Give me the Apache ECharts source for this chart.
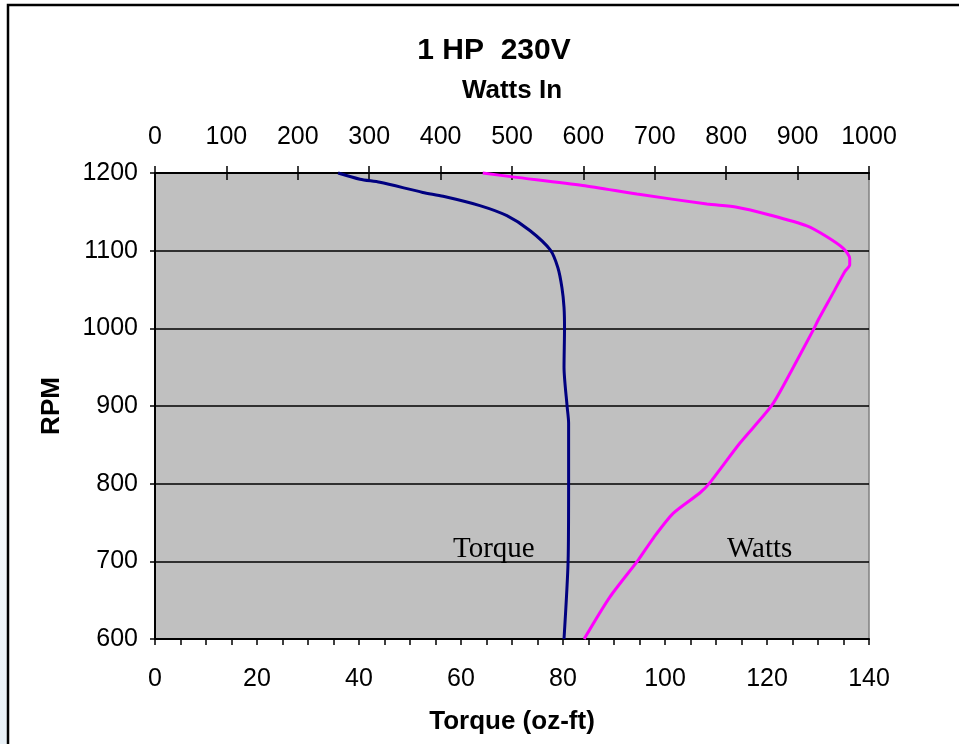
<!DOCTYPE html>
<html>
<head>
<meta charset="utf-8">
<script src="https://cdn.jsdelivr.net/npm/echarts@6/dist/echarts.min.js"></script>
<style>
html,body{margin:0;padding:0;background:#fff;}
#chart{width:959px;height:744px;}
</style>
</head>
<body>
<div id="chart"></div>
<script>
const titleText = '1 HP  230V';
const rpmTicks = [600, 700, 800, 900, 1000, 1100, 1200];

const torqueRPM  = [1200, 1192, 1188, 1175, 1170, 1158, 1145, 1126, 1101, 1078, 1052, 1027, 1000, 950, 900, 878, 800, 700, 600];
const torqueVals = [35.9, 40.2, 44.1, 52.5, 56.5, 63.7, 69.0, 73.5, 77.5, 79.0, 79.8, 80.2, 80.3, 80.2, 80.8, 81.1, 81.1, 81.0, 80.2];

const wattsRPM  = [1200, 1195, 1184, 1173, 1160, 1156, 1146, 1132, 1118, 1103, 1090, 1082, 1073, 1046, 1011, 998, 950, 901, 852, 801, 788, 762, 730, 702, 654, 600];
const wattsVals = [459, 501, 599, 675, 773, 815, 861, 913, 941, 964, 973, 973, 966, 950, 929, 922, 894, 864, 819, 777, 763, 726, 698, 677, 637, 601];

const torqueData = torqueVals.map((v, i) => [v, torqueRPM[i]]);
const wattsData = wattsVals.map((v, i) => [v, wattsRPM[i]]);

const FONT = 'Liberation Sans, Arial, sans-serif';
const plain = v => String(v);
const chart = echarts.init(document.getElementById('chart'));
chart.setOption({
  animation: false,
  backgroundColor: '#ffffff',
  title: {
    text: titleText,
    left: 489, top: 31, textAlign: 'center',
    textStyle: {fontFamily: FONT, fontSize: 30, fontWeight: 'bold', color: '#000'}
  },
  grid: {
    left: 155, right: 90, top: 173, bottom: 105,
    show: true, backgroundColor: '#C0C0C0', borderColor: '#808080', borderWidth: 1.5
  },
  xAxis: [
    {
      type: 'value', position: 'bottom', min: 0, max: 140, interval: 20,
      name: 'Torque (oz-ft)', nameLocation: 'middle', nameGap: 70,
      nameTextStyle: {fontFamily: FONT, fontSize: 26, fontWeight: 'bold', color: '#000'},
      axisLine: {show: true, onZero: false, lineStyle: {color: '#000', width: 2}},
      axisTick: {show: true, length: 6, lineStyle: {color: '#000', width: 1.5}},
      minorTick: {show: true, splitNumber: 4, length: 6, lineStyle: {color: '#000', width: 1.5}},
      axisLabel: {margin: 28, fontFamily: FONT, fontSize: 25, color: '#000', formatter: plain},
      splitLine: {show: false}
    },
    {
      type: 'value', position: 'top', min: 0, max: 1000, interval: 100,
      name: 'Watts In', nameLocation: 'middle', nameGap: 69,
      nameTextStyle: {fontFamily: FONT, fontSize: 26, fontWeight: 'bold', color: '#000'},
      axisLine: {show: true, onZero: false, lineStyle: {color: '#000', width: 2}},
      axisTick: {show: true, length: 7, lineStyle: {color: '#000', width: 1.5}},
      axisLabel: {margin: 23, fontFamily: FONT, fontSize: 25, color: '#000', formatter: plain},
      splitLine: {show: false}
    },
    {
      type: 'value', position: 'top', min: 0, max: 1000, interval: 100,
      axisLine: {show: false},
      axisTick: {show: true, inside: true, length: 7, lineStyle: {color: '#000', width: 1.5}},
      axisLabel: {show: false},
      splitLine: {show: false}
    }
  ],
  yAxis: {
    type: 'value', min: rpmTicks[0], max: rpmTicks[rpmTicks.length - 1], interval: 100,
    name: 'RPM', nameLocation: 'middle', nameGap: 90, nameRotate: 90,
    nameTextStyle: {fontFamily: FONT, fontSize: 26, fontWeight: 'bold', color: '#000'},
    axisLine: {show: true, onZero: false, lineStyle: {color: '#000', width: 2}},
    axisTick: {show: true, length: 5, lineStyle: {color: '#000', width: 1.5}},
    axisLabel: {margin: 17, fontFamily: FONT, fontSize: 25, color: '#000', formatter: plain},
    splitLine: {show: true, lineStyle: {color: '#000', width: 1.5}}
  },
  series: [
    {
      name: 'Torque', type: 'line', xAxisIndex: 0, yAxisIndex: 0,
      data: torqueData, showSymbol: false, smooth: 0.25,
      lineStyle: {color: '#000080', width: 3}, clip: false
    },
    {
      name: 'Watts', type: 'line', xAxisIndex: 1, yAxisIndex: 0,
      data: wattsData, showSymbol: false, smooth: 0.25,
      lineStyle: {color: '#FF00FF', width: 3}, clip: false
    }
  ],
  graphic: [
    {type: 'rect', silent: true, z: -10, shape: {x: 0, y: 300, width: 7, height: 444},
     style: {fill: new echarts.graphic.LinearGradient(0, 0, 0, 1, [{offset: 0, color: '#ffffff'}, {offset: 1, color: '#e8f0f6'}])}},
    {type: 'rect', silent: true, z: 100, shape: {x: 8, y: 5, width: 1000, height: 800},
     style: {fill: 'none', stroke: '#000', lineWidth: 2.5}},
    {type: 'text', silent: true, z: 100, left: 453, top: 535,
     style: {text: 'Torque', font: '29px "Liberation Serif", "Times New Roman", serif', fill: '#000'}},
    {type: 'text', silent: true, z: 100, left: 727, top: 535,
     style: {text: 'Watts', font: '29px "Liberation Serif", "Times New Roman", serif', fill: '#000'}}
  ]
});
</script>
</body>
</html>
